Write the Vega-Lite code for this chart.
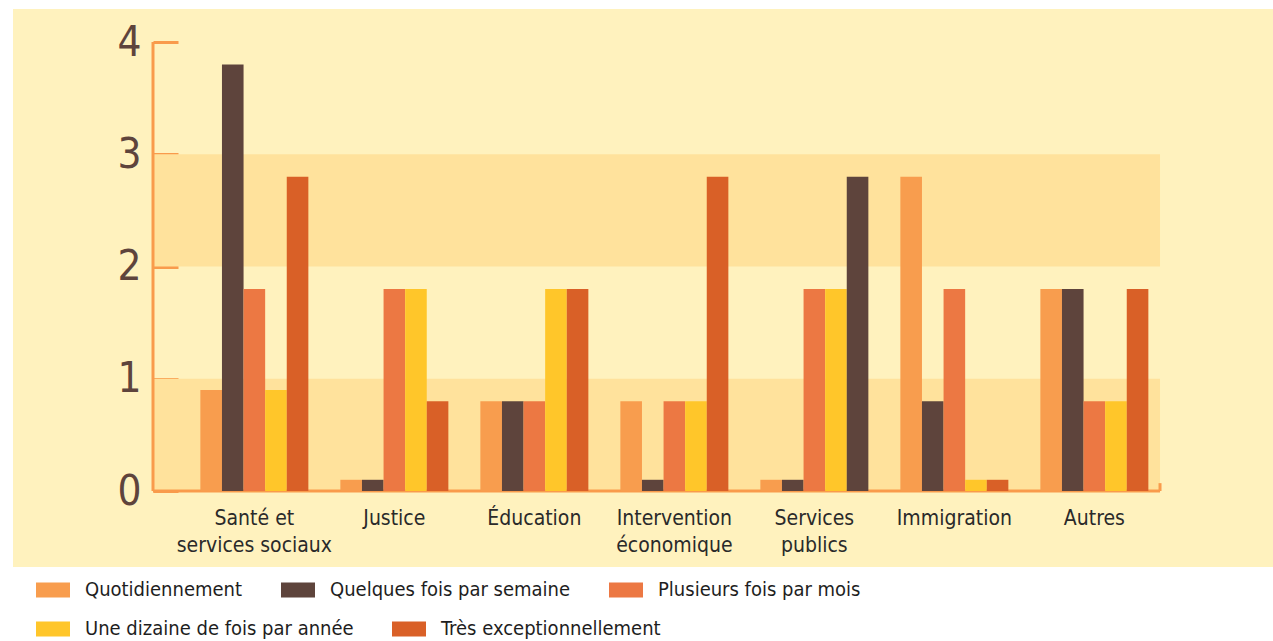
{
  "$schema": "https://vega.github.io/schema/vega-lite/v6.json",
  "width": 1260,
  "height": 558,
  "autosize": {"type": "none"},
  "padding": {"left": 13, "top": 9, "right": 0, "bottom": 74},
  "background": "#FFFFFF",
  "view": {"fill": "#FFF2BE", "stroke": null},
  "datasets": {
    "valeurs": [
      {"categorie": "Santé et services sociaux", "frequence": "Quotidiennement", "valeur": 0.9},
      {"categorie": "Santé et services sociaux", "frequence": "Quelques fois par semaine", "valeur": 3.8},
      {"categorie": "Santé et services sociaux", "frequence": "Plusieurs fois par mois", "valeur": 1.8},
      {"categorie": "Santé et services sociaux", "frequence": "Une dizaine de fois par année", "valeur": 0.9},
      {"categorie": "Santé et services sociaux", "frequence": "Très exceptionnellement", "valeur": 2.8},
      {"categorie": "Justice", "frequence": "Quotidiennement", "valeur": 0.1},
      {"categorie": "Justice", "frequence": "Quelques fois par semaine", "valeur": 0.1},
      {"categorie": "Justice", "frequence": "Plusieurs fois par mois", "valeur": 1.8},
      {"categorie": "Justice", "frequence": "Une dizaine de fois par année", "valeur": 1.8},
      {"categorie": "Justice", "frequence": "Très exceptionnellement", "valeur": 0.8},
      {"categorie": "Éducation", "frequence": "Quotidiennement", "valeur": 0.8},
      {"categorie": "Éducation", "frequence": "Quelques fois par semaine", "valeur": 0.8},
      {"categorie": "Éducation", "frequence": "Plusieurs fois par mois", "valeur": 0.8},
      {"categorie": "Éducation", "frequence": "Une dizaine de fois par année", "valeur": 1.8},
      {"categorie": "Éducation", "frequence": "Très exceptionnellement", "valeur": 1.8},
      {"categorie": "Intervention économique", "frequence": "Quotidiennement", "valeur": 0.8},
      {"categorie": "Intervention économique", "frequence": "Quelques fois par semaine", "valeur": 0.1},
      {"categorie": "Intervention économique", "frequence": "Plusieurs fois par mois", "valeur": 0.8},
      {"categorie": "Intervention économique", "frequence": "Une dizaine de fois par année", "valeur": 0.8},
      {"categorie": "Intervention économique", "frequence": "Très exceptionnellement", "valeur": 2.8},
      {"categorie": "Services publics", "frequence": "Quotidiennement", "valeur": 0.1},
      {"categorie": "Services publics", "frequence": "Quelques fois par semaine", "valeur": 0.1},
      {"categorie": "Services publics", "frequence": "Plusieurs fois par mois", "valeur": 1.8},
      {"categorie": "Services publics", "frequence": "Une dizaine de fois par année", "valeur": 1.8},
      {"categorie": "Services publics", "frequence": "Très exceptionnellement", "valeur": 2.8},
      {"categorie": "Immigration", "frequence": "Quotidiennement", "valeur": 2.8},
      {"categorie": "Immigration", "frequence": "Quelques fois par semaine", "valeur": 0.8},
      {"categorie": "Immigration", "frequence": "Plusieurs fois par mois", "valeur": 1.8},
      {"categorie": "Immigration", "frequence": "Une dizaine de fois par année", "valeur": 0.1},
      {"categorie": "Immigration", "frequence": "Très exceptionnellement", "valeur": 0.1},
      {"categorie": "Autres", "frequence": "Quotidiennement", "valeur": 1.8},
      {"categorie": "Autres", "frequence": "Quelques fois par semaine", "valeur": 1.8},
      {"categorie": "Autres", "frequence": "Plusieurs fois par mois", "valeur": 0.8},
      {"categorie": "Autres", "frequence": "Une dizaine de fois par année", "valeur": 0.8},
      {"categorie": "Autres", "frequence": "Très exceptionnellement", "valeur": 1.8}
    ]
  },
  "config": {
    "font": "'Liberation Sans Narrow', 'DejaVu Sans Condensed', Roboto, sans-serif",
    "axisY": {
      "offset": -140,
      "domain": false,
      "grid": false,
      "tickColor": "#F99B4C",
      "tickWidth": 3,
      "tickSize": -25,
      "labelFontSize": 42,
      "labelColor": "#5E443C",
      "labelPadding": 37,
      "title": null
    },
    "axisX": {
      "offset": -76,
      "domain": false,
      "ticks": false,
      "grid": false,
      "labelFontSize": 21,
      "labelColor": "#2A2A2A",
      "labelPadding": 16,
      "labelLineHeight": 27,
      "labelAngle": 0,
      "labelLimit": 0,
      "title": null
    },
    "legend": {
      "orient": "none",
      "legendX": 23,
      "direction": "horizontal",
      "columnPadding": 38,
      "symbolType": "M-1,-0.44H1V0.44H-1Z",
      "symbolSize": 1156,
      "symbolStrokeWidth": 0,
      "symbolOpacity": 1,
      "labelFontSize": 20,
      "labelOffset": 15,
      "labelColor": "#1E1E1E",
      "labelLimit": 0,
      "title": null
    }
  },
  "resolve": {"scale": {"color": "independent"}, "legend": {"color": "independent"}},
  "layer": [
    {
      "data": {"values": [{"debut": 0, "fin": 1}, {"debut": 2, "fin": 3}]},
      "mark": {"type": "rect", "color": "#FFE29C"},
      "encoding": {
        "x": {"datum": "Santé et services sociaux", "type": "nominal", "bandPosition": -0.224},
        "x2": {"datum": "Autres", "bandPosition": 0.969},
        "y": {"field": "debut", "type": "quantitative", "title": null},
        "y2": {"field": "fin"}
      }
    },
    {
      "data": {"values": [{}]},
      "mark": {"type": "rule", "color": "#F99B4C", "strokeWidth": 3},
      "encoding": {
        "x": {"datum": "Santé et services sociaux", "type": "nominal", "bandPosition": -0.224},
        "y": {"datum": 0, "type": "quantitative"},
        "y2": {"datum": 4}
      }
    },
    {
      "data": {"values": [{}]},
      "mark": {"type": "rule", "color": "#F99B4C", "strokeWidth": 3},
      "encoding": {
        "x": {"datum": "Santé et services sociaux", "type": "nominal", "bandPosition": -0.224},
        "x2": {"datum": "Autres", "bandPosition": 0.969},
        "y": {"datum": 0, "type": "quantitative"}
      }
    },
    {
      "data": {"values": [{}]},
      "mark": {"type": "rule", "color": "#F99B4C", "strokeWidth": 3},
      "encoding": {
        "x": {"datum": "Autres", "type": "nominal", "bandPosition": 0.969},
        "y": {"datum": 0, "type": "quantitative"},
        "y2": {"datum": 0.07}
      }
    },
    {
      "data": {"name": "valeurs"},
      "transform": [
        {"filter": {"field": "frequence", "oneOf": ["Quotidiennement", "Quelques fois par semaine", "Plusieurs fois par mois"]}}
      ],
      "mark": {"type": "bar"},
      "encoding": {
        "x": {
          "field": "categorie",
          "type": "nominal",
          "sort": null,
          "scale": {
            "domain": ["Santé et services sociaux", "Justice", "Éducation", "Intervention économique", "Services publics", "Immigration", "Autres"],
            "paddingInner": 0,
            "paddingOuter": 1,
            "align": 0.612
          },
          "axis": {
            "labelExpr": "datum.value == 'Santé et services sociaux' ? ['Santé et', 'services sociaux'] : datum.value == 'Intervention économique' ? ['Intervention', 'économique'] : datum.value == 'Services publics' ? ['Services', 'publics'] : datum.value"
          }
        },
        "xOffset": {
          "field": "frequence",
          "type": "nominal",
          "sort": null,
          "scale": {
            "domain": ["Quotidiennement", "Quelques fois par semaine", "Plusieurs fois par mois", "Une dizaine de fois par année", "Très exceptionnellement"],
            "paddingInner": 0,
            "paddingOuter": 0.741
          }
        },
        "y": {
          "field": "valeur",
          "type": "quantitative",
          "title": null,
          "scale": {"domain": [-0.677, 4.294], "nice": false, "zero": false},
          "axis": {"values": [0, 1, 2, 3, 4], "format": "d"}
        },
        "color": {
          "field": "frequence",
          "type": "nominal",
          "sort": null,
          "scale": {
            "domain": ["Quotidiennement", "Quelques fois par semaine", "Plusieurs fois par mois"],
            "range": ["#F89D4E", "#5E443C", "#EC7843"]
          },
          "legend": {"title": null, "legendY": 564}
        }
      }
    },
    {
      "data": {"name": "valeurs"},
      "transform": [
        {"filter": {"field": "frequence", "oneOf": ["Une dizaine de fois par année", "Très exceptionnellement"]}}
      ],
      "mark": {"type": "bar"},
      "encoding": {
        "x": {"field": "categorie", "type": "nominal", "sort": null},
        "xOffset": {"field": "frequence", "type": "nominal", "sort": null},
        "y": {"field": "valeur", "type": "quantitative", "title": null},
        "color": {
          "field": "frequence",
          "type": "nominal",
          "sort": null,
          "condition": {
            "test": "datum.categorie === 'Services publics' && datum.frequence === 'Très exceptionnellement'",
            "value": "#5E443C"
          },
          "scale": {
            "domain": ["Une dizaine de fois par année", "Très exceptionnellement"],
            "range": ["#FFC62A", "#D96027"]
          },
          "legend": {"title": null, "legendY": 603}
        }
      }
    }
  ]
}
